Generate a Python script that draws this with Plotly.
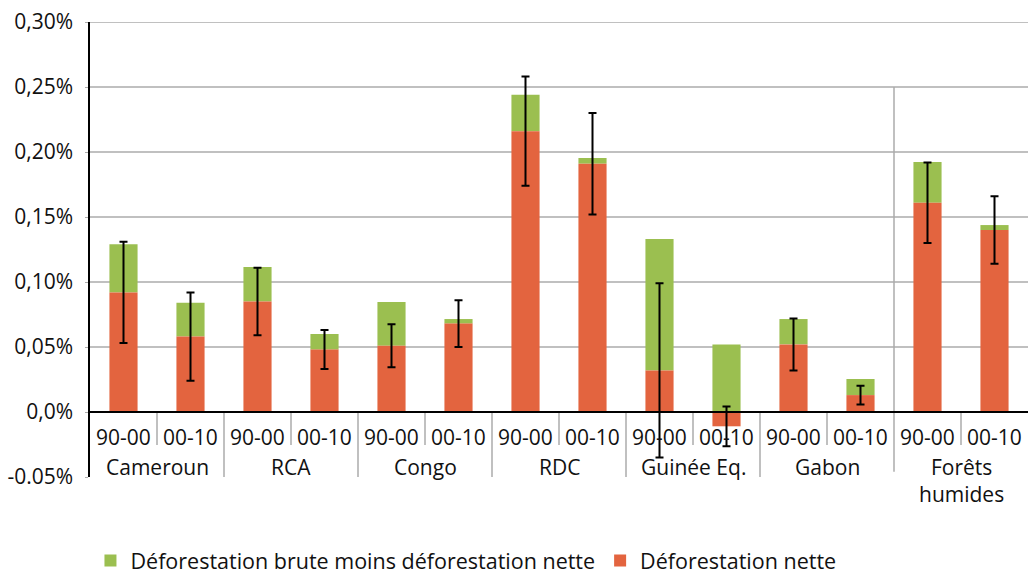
import numpy as np
import plotly.graph_objects as go

# Country groups and the two reference periods (one bar per period)
groups = ["Cameroun", "RCA", "Congo", "RDC", "Guinée Eq.", "Gabon", "Forêts<br>humides"]
periods = ["90-00", "00-10"]

# Annual net deforestation rate (%), in group/period order
net = [0.092, 0.058, 0.085, 0.048, 0.051, 0.068, 0.216, 0.191,
       0.032, -0.011, 0.052, 0.013, 0.161, 0.140]
# Gross deforestation minus net deforestation (%)
gross_minus_net = [0.037, 0.026, 0.0265, 0.012, 0.0336, 0.0035, 0.028, 0.0044,
                   0.101, 0.052, 0.0195, 0.0124, 0.0313, 0.0038]
# Uncertainty on net deforestation (± %)
net_err = [0.039, 0.034, 0.026, 0.015, 0.0165, 0.018, 0.042, 0.039,
           0.067, 0.0153, 0.020, 0.0072, 0.031, 0.026]

y_ticks = [-0.05, 0.0, 0.05, 0.10, 0.15, 0.20, 0.25, 0.30]
y_tick_labels = ["-0.05%", "0,0%", "0,05%", "0,10%", "0,15%", "0,20%", "0,25%", "0,30%"]

GREEN = "#9BBF50"
ORANGE = "#E3643F"
GRID = "#ABABAB"
FONT = "Open Sans"
TEXT = "#111111"
SIZE = 21

n_per = len(periods)
x = np.arange(len(net))
net_arr = np.array(net)
green_base = np.maximum(net_arr, 0)

fig = go.Figure()
fig.add_trace(go.Bar(
    x=x, y=gross_minus_net, base=green_base, width=0.42,
    marker=dict(color=GREEN, line=dict(width=0)),
    name="Déforestation brute moins déforestation nette",
))
fig.add_trace(go.Bar(
    x=x, y=net, width=0.42,
    marker=dict(color=ORANGE, line=dict(width=0)),
    name="Déforestation nette",
    error_y=dict(type="data", array=net_err, visible=True,
                 color="black", thickness=2, width=4),
))

shapes = []
# horizontal gridlines (positive ticks only)
for v in y_ticks:
    if v > 0:
        shapes.append(dict(type="line", xref="paper", yref="y", x0=0, x1=1, y0=v, y1=v,
                           line=dict(color=GRID, width=1.5), layer="below"))

# category dividers below the zero line
ymin = y_ticks[0]
for i in range(1, len(net)):
    xpos = i - 0.5
    if i % n_per:
        shapes.append(dict(type="line", xref="x", yref="y", x0=xpos, x1=xpos, y0=0, y1=-0.0254,
                           line=dict(color=GRID, width=1.5)))
    elif i == len(net) - n_per:
        # divider separating the regional total, running up the chart
        shapes.append(dict(type="line", xref="x", yref="y", x0=xpos, x1=xpos, y0=0.25, y1=-0.046,
                           line=dict(color=GRID, width=1.5), layer="below"))
    else:
        shapes.append(dict(type="line", xref="x", yref="y", x0=xpos, x1=xpos, y0=0, y1=ymin - 0.001,
                           line=dict(color=GRID, width=1.5)))

# zero baseline
shapes.append(dict(type="line", xref="paper", yref="y", x0=0, x1=1, y0=0, y1=0,
                   line=dict(color="black", width=2), layer="above"))

annotations = []
for i in range(len(net)):
    annotations.append(dict(x=i, y=0, xref="x", yref="y", text=periods[i % n_per],
                            showarrow=False, yanchor="middle", yshift=-25,
                            font=dict(family=FONT, size=SIZE, color=TEXT)))
for g, name in enumerate(groups):
    annotations.append(dict(x=g * n_per + (n_per - 1) / 2, y=0, xref="x", yref="y", text=name,
                            showarrow=False, yanchor="top", yshift=-39,
                            font=dict(family=FONT, size=SIZE, color=TEXT)))

fig.update_layout(
    width=1028, height=581,
    margin=dict(l=90, r=0, t=22, b=104),
    barmode="overlay",
    plot_bgcolor="white", paper_bgcolor="white",
    font=dict(family=FONT, size=SIZE, color=TEXT),
    xaxis=dict(range=[-0.5, len(net) - 0.5], showgrid=False, zeroline=False,
               showticklabels=False, ticks="", showline=False),
    yaxis=dict(range=[y_ticks[0], y_ticks[-1]], tickvals=y_ticks, ticktext=y_tick_labels,
               showgrid=False, zeroline=False, showline=True, linecolor="black", linewidth=1.5,
               ticks="outside", ticklen=3, tickcolor=GRID, ticklabelstandoff=8,
               tickfont=dict(family=FONT, size=SIZE, color=TEXT)),
    showlegend=True,
    legend=dict(orientation="h", xref="container", yref="container",
                x=0.088, y=-0.007, xanchor="left", yanchor="bottom",
                font=dict(family=FONT, size=21.5, color=TEXT), traceorder="normal"),
    shapes=shapes,
    annotations=annotations,
)

fig.write_html("out.html")
